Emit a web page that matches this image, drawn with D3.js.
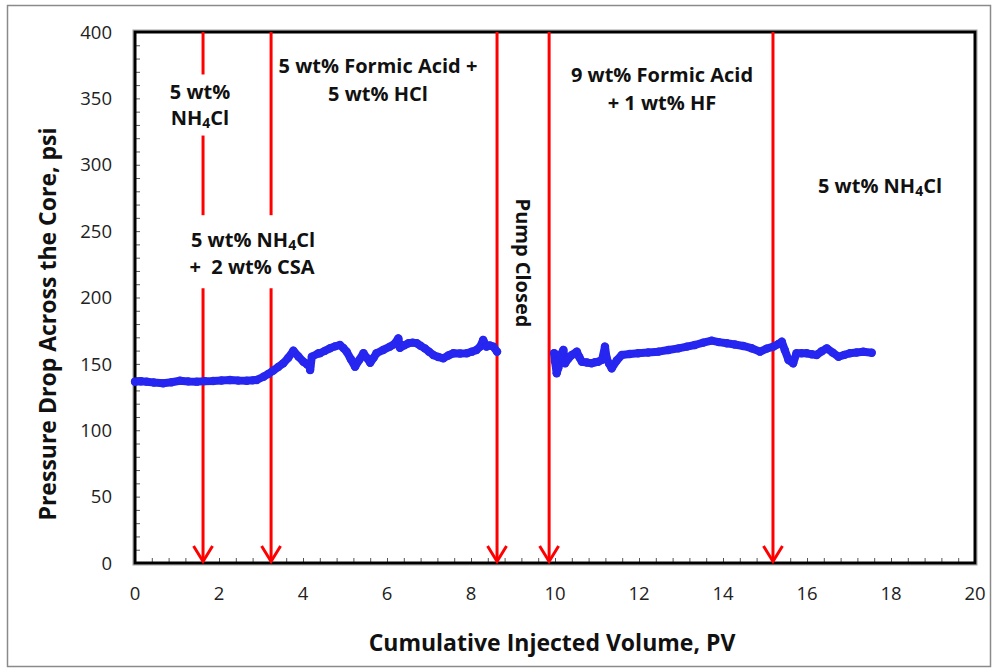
<!DOCTYPE html>
<html>
<head>
<meta charset="utf-8">
<script src="https://cdn.jsdelivr.net/npm/d3@7/dist/d3.min.js"></script>
<style>
  html, body { margin: 0; padding: 0; background: #fff; }
  svg { display: block; }
  text { font-family: "Open Sans", Lato, sans-serif; fill: #111; }
</style>
</head>
<body>
<svg id="chart" width="999" height="672"></svg>
<script>
// Pressure drop before the pump was closed: [PV, psi]
const stage1 = [
  [0.00,136.6],[0.14,136.9],[0.28,136.6],[0.45,136.0],[0.67,135.4],[0.87,136.2],[1.07,137.3],
  [1.27,136.8],[1.47,136.6],[1.66,137.0],[1.86,137.1],[2.06,137.5],[2.26,137.9],[2.46,137.4],
  [2.66,137.3],[2.80,137.6],[2.90,137.9],[3.06,140.3],[3.18,142.5],[3.29,144.9],[3.41,147.6],
  [3.53,150.4],[3.65,154.6],[3.77,159.9],[3.89,155.6],[4.01,151.6],[4.10,149.5],[4.17,147.9],
  [4.17,145.4],[4.21,155.4],[4.37,158.0],[4.40,158.0],[4.52,159.8],[4.64,161.7],[4.76,163.2],
  [4.88,164.2],[4.96,162.0],[5.04,159.2],[5.14,153.5],[5.24,147.9],[5.34,153.0],[5.44,158.0],
  [5.52,154.5],[5.60,150.9],[5.68,154.5],[5.75,158.0],[5.91,160.5],[6.07,163.0],[6.17,164.8],
  [6.27,169.2],[6.31,162.2],[6.41,164.0],[6.51,165.5],[6.61,166.0],[6.71,165.5],[6.80,163.6],
  [6.90,161.7],[7.00,159.2],[7.10,156.7],[7.22,155.2],[7.34,154.2],[7.46,156.3],[7.58,158.0],
  [7.74,157.8],[7.90,158.0],[8.02,159.2],[8.13,160.5],[8.22,163.0],[8.29,168.0],[8.37,163.0],
  [8.45,163.8],[8.53,163.0],[8.62,159.2]
];

// Pressure drop after the pump was restarted: [PV, psi]
const stage2 = [
  [9.98,158.0],[10.00,152.0],[10.04,142.9],[10.08,147.0],[10.12,156.0],[10.20,160.5],[10.24,150.4],
  [10.32,154.0],[10.40,156.7],[10.52,159.2],[10.58,155.0],[10.64,151.6],[10.76,151.0],[10.87,150.4],
  [10.95,151.2],[11.03,151.6],[11.12,153.0],[11.19,163.0],[11.23,154.2],[11.29,150.0],[11.35,146.6],
  [11.47,152.5],[11.59,156.7],[11.78,157.4],[11.98,158.0],[12.22,158.6],[12.46,159.2],[12.70,160.5],
  [12.94,161.7],[13.14,163.0],[13.33,164.2],[13.53,166.0],[13.73,167.5],[13.90,166.4],[14.09,165.5],
  [14.28,164.6],[14.48,163.5],[14.68,161.8],[14.88,159.2],[15.04,161.5],[15.20,163.0],[15.32,165.0],
  [15.40,166.7],[15.47,160.5],[15.56,152.9],[15.67,150.4],[15.75,158.0],[15.87,158.0],[15.99,158.0],
  [16.11,157.2],[16.23,156.7],[16.35,159.5],[16.47,161.7],[16.61,158.5],[16.75,155.4],[16.89,156.8],
  [17.02,158.0],[17.18,158.6],[17.34,159.2],[17.54,158.4]
];

// Injection-stage boundaries (PV) and the psi spans left open for labels
const stageMarks = [1.62, 3.24, 8.62, 9.86, 15.19];
const stageGaps = [
  [[322, 368], [207, 262]],
  [[207, 262]],
  [],
  [],
  []
];

const xTicks = [0, 2, 4, 6, 8, 10, 12, 14, 16, 18, 20];
const yTicks = [0, 50, 100, 150, 200, 250, 300, 350, 400];

const svg = d3.select("#chart");
const m = { left: 135, right: 975, top: 32, bottom: 563 };

const x = d3.scaleLinear().domain([0, 20]).range([m.left, m.right]);
const y = d3.scaleLinear().domain([0, 400]).range([m.bottom, m.top]);

// outer chart border
svg.append("rect")
  .attr("x", 7.5).attr("y", 5.5).attr("width", 983).attr("height", 661)
  .attr("fill", "#fff").attr("stroke", "#8a8a8a").attr("stroke-width", 1.5);

// minor + major inside ticks
const minorX = d3.range(0, 20.001, 0.4);
const minorY = d3.range(0, 400.001, 10);

const xAxis = d3.axisBottom(x).tickValues(minorX).tickSize(-5).tickFormat("");
const yAxis = d3.axisLeft(y).tickValues(minorY).tickSize(-5).tickFormat("");

const gx = svg.append("g").attr("transform", `translate(0,${m.bottom})`).call(xAxis);
const gy = svg.append("g").attr("transform", `translate(${m.left},0)`).call(yAxis);
[gx, gy].forEach(g => {
  g.select(".domain").remove();
  g.selectAll(".tick line").attr("stroke", "#555").attr("stroke-width", 1);
});

// tick labels
svg.append("g").selectAll("text").data(xTicks).join("text")
  .attr("x", d => x(d)).attr("y", 600)
  .attr("text-anchor", "middle")
  .style("font-size", "18.5px").style("fill", "#222")
  .text(d => d);

svg.append("g").selectAll("text").data(yTicks).join("text")
  .attr("x", 112).attr("y", d => y(d))
  .attr("dy", "0.36em")
  .attr("text-anchor", "end")
  .style("font-size", "18.5px").style("fill", "#222")
  .text(d => d);

// plot frame with light shadow edge
svg.append("rect")
  .attr("x", m.left - 2).attr("y", m.top - 2)
  .attr("width", m.right - m.left + 4).attr("height", m.bottom - m.top + 4)
  .attr("fill", "none").attr("stroke", "#a0a0a0").attr("stroke-width", 1);
svg.append("rect")
  .attr("x", m.left).attr("y", m.top)
  .attr("width", m.right - m.left).attr("height", m.bottom - m.top)
  .attr("fill", "none").attr("stroke", "#000").attr("stroke-width", 3);

// stage boundary arrows
const arrows = svg.append("g").attr("stroke", "#ff0000").attr("stroke-width", 3).attr("fill", "none");
stageMarks.forEach((pv, i) => {
  const gaps = stageGaps[i].slice().sort((a, b) => b[1] - a[1]);
  let top = 400;
  const segs = [];
  gaps.forEach(([lo, hi]) => { segs.push([hi, top]); top = lo; });
  segs.push([0, top]);
  segs.forEach(([lo, hi]) => {
    arrows.append("line")
      .attr("x1", x(pv)).attr("x2", x(pv))
      .attr("y1", y(hi)).attr("y2", y(lo) - (lo === 0 ? 1 : 0));
  });
  arrows.append("path")
    .attr("stroke-linejoin", "miter")
    .attr("d", `M${x(pv) - 9.5},${y(0) - 17} L${x(pv)},${y(0) - 1.5} L${x(pv) + 9.5},${y(0) - 17}`);
});

// pressure data
const line = d3.line().x(d => x(d[0])).y(d => y(d[1]));
const blue = "#2626f0";
[stage1, stage2].forEach(s => {
  svg.append("path").datum(s)
    .attr("d", line)
    .attr("fill", "none").attr("stroke", blue)
    .attr("stroke-width", 8).attr("stroke-linejoin", "round").attr("stroke-linecap", "round");
  svg.append("g").selectAll("circle").data(s).join("circle")
    .attr("cx", d => x(d[0])).attr("cy", d => y(d[1])).attr("r", 4.2)
    .attr("fill", blue);
});

// stage labels
const ann = svg.append("g").style("font-weight", "bold").style("font-size", "20px").attr("text-anchor", "middle");
function label(cx, cy, parts) {
  const t = ann.append("text").attr("x", cx).attr("y", cy);
  parts.forEach(p => {
    if (typeof p === "string") t.append("tspan").text(p);
    else t.append("tspan").attr("baseline-shift", "-22%").style("font-size", "14px").text(p.sub);
  });
  return t;
}
label(200, 99, ["5 wt%"]);
label(200, 125, ["NH", { sub: "4" }, "Cl"]);
label(378, 73, ["5 wt% Formic Acid +"]);
label(378, 101, ["5 wt% HCl"]);
label(253, 247, ["5 wt% NH", { sub: "4" }, "Cl"]);
label(252, 274, ["+  2 wt% CSA"]).attr("xml:space", "preserve");
label(662, 82, ["9 wt% Formic Acid"]);
label(662, 110, ["+ 1 wt% HF"]);
label(880, 193, ["5 wt% NH", { sub: "4" }, "Cl"]);

ann.append("text")
  .attr("transform", `translate(516,263) rotate(90)`)
  .text("Pump Closed");

// axis titles
svg.append("text")
  .attr("x", 552).attr("y", 651)
  .attr("text-anchor", "middle")
  .style("font-weight", "bold").style("font-size", "23px")
  .text("Cumulative Injected Volume, PV");

svg.append("text")
  .attr("transform", `translate(56,324) rotate(-90)`)
  .attr("text-anchor", "middle")
  .style("font-weight", "bold").style("font-size", "23px")
  .text("Pressure Drop Across the Core, psi");
</script>
</body>
</html>
